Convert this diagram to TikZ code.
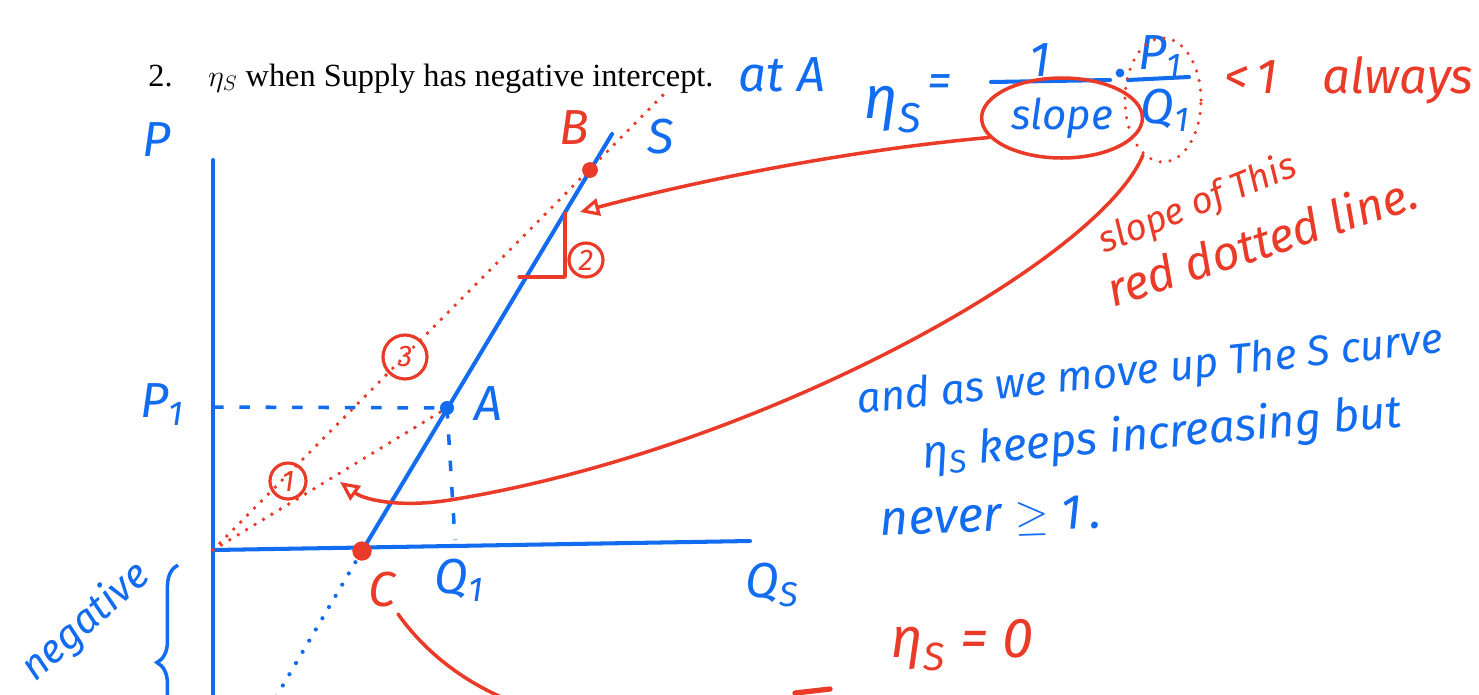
\documentclass[tikz,border=0pt]{standalone}
\usepackage{fontspec}
\setmainfont{Liberation Serif}
\newfontfamily\handfont{Fira Sans}
\newcommand\handsize[1]{\handfont\itshape\fontsize{#1}{#1}\selectfont}
\usetikzlibrary{positioning,arrows.meta,shapes.geometric,decorations.pathreplacing}

\definecolor{inkblue}{RGB}{18,108,240}
\definecolor{inkred}{RGB}{234,58,40}

\begin{document}
\begin{tikzpicture}[x=0.02cm, y=-0.02cm,
    axis/.style={inkblue, line width=2.3pt, line cap=round},
    guide/.style={inkblue, line width=2pt, dash pattern=on 6pt off 9pt},
    bluedots/.style={inkblue, line width=2.4pt, line cap=round, dash pattern=on 0pt off 7.4pt},
    reddots/.style={inkred, line width=2.2pt, line cap=round, dash pattern=on 0pt off 5.6pt},
    stroke/.style={inkred, line width=2pt, line cap=round, line join=round},
    pointer/.style={stroke, -{Triangle[open, length=11pt, width=10pt, line width=1.8pt]}},
    spot/.style={circle, fill=inkred, inner sep=0pt, minimum size=9pt},
    hand/.style={font=\handsize{28}, inner sep=0pt},
    ring/.style={circle, draw=inkred, line width=1.8pt, text=inkred, inner sep=0pt, font=\handsize{17}}
]

% Define canvas
\fill[white] (0,0) rectangle (1479,694);
\useasboundingbox (0,0) rectangle (1479,694);

\node[anchor=base west, font=\fontsize{18.4}{22}\selectfont, inner sep=0pt] (title) at (148,86)
    {2.\hspace{1.1em}$\eta_S$ when Supply has negative intercept.};

% Define coordinates
\coordinate (O) at (213,550);
\coordinate (Ptop) at (213,160);
\coordinate (Pbot) at (213,700);
\coordinate (Qend) at (750,541);
\coordinate (pA) at (447,408);
\coordinate (pB) at (590,170);
\coordinate (pC) at (362,551);
\coordinate (Stop) at (612,134);
\coordinate (Sdown) at (276,697);
\coordinate (Rtop) at (668,90);
\coordinate (P1) at (213,407);
\coordinate (Q1) at (455,540);

% Axes, supply curve and guides
\draw[axis] (Ptop) -- (Pbot);
\draw[axis] (O) -- (Qend);
\draw[axis] (pC) -- (Stop);
\draw[bluedots] (pC) -- (Sdown);
\draw[guide] (P1) -- (pA);
\draw[guide] (pA) -- (Q1);
\draw[reddots] (O) -- (pA);
\draw[reddots] (O) -- (Rtop);

% Define points
\node[spot, minimum size=11pt] (C) at (pC) {};
\node[spot, fill=inkblue, minimum size=8pt] (A) at (pA) {};
\node[spot] (B) at (pB) {};

% Labels
\node[hand, text=inkblue] (Plab) at (157,140) {P};
\node[hand, text=inkblue] (Slab) at (661,137) {S};
\node[hand, text=inkred] (Blab) at (574,128) {B};
\node[hand, text=inkblue] (P1lab) at (162,405) {P\textsubscript{1}};
\node[hand, text=inkblue] (Alab) at (488,404) {A};
\node[hand, text=inkblue] (Q1lab) at (459,580) {Q\textsubscript{1}};
\node[hand, text=inkred] (Clab) at (382,590) {C};
\node[hand, text=inkblue] (QSlab) at (772,585) {Q\textsubscript{S}};
\node[hand, text=inkblue] (atA) at (782,75) {at A};
\node[hand, text=inkblue, font=\handsize{23}, rotate=42] (neg) at (86,622) {negative};
\coordinate (bracebot) at (178,760);
\coordinate (bracetop) at (178,565);
\draw[inkblue, line width=2pt, decorate, decoration={brace, amplitude=12pt}] (bracebot) -- (bracetop);

% Slope triangle and circled marks
\coordinate (T1) at (565,213);
\coordinate (T2) at (565,277);
\coordinate (T3) at (519,277);
\draw[stroke] (T1) -- (T2) -- (T3);
\node[ring, minimum size=0.68cm] (two) at (586,260) {2};
\node[ring, minimum size=0.88cm] (three) at (405,357) {3};
\node[ring, minimum size=0.72cm] (one) at (288,481) {1};

% Formula
\node[hand, text=inkblue, font=\handsize{34}] (eta) at (893,110) {η\textsubscript{S}};
\node[hand, text=inkblue] (eq) at (940,86) {=};
\node[hand, text=inkblue] (num) at (1040,60) {1};
\coordinate (bar1a) at (991,82);
\coordinate (bar1b) at (1110,80);
\draw[axis] (bar1a) -- (bar1b);
\node[ellipse, draw=inkred, line width=2pt, minimum width=3.16cm, minimum height=1.6cm,
    text=inkblue, font=\handsize{24}] (slope) at (1062,118) {slope};
\node[circle, fill=inkblue, inner sep=0pt, minimum size=5pt] (times) at (1120,73) {};
\node[hand, text=inkblue] (P1num) at (1160,57) {P\textsubscript{1}};
\coordinate (bar2a) at (1128,80);
\coordinate (bar2b) at (1189,77);
\draw[axis] (bar2a) -- (bar2b);
\node[hand, text=inkblue] (Q1den) at (1165,110) {Q\textsubscript{1}};
\node[ellipse, draw=inkred, line width=2pt, line cap=round, dash pattern=on 0pt off 5.6pt,
    minimum width=1.52cm, minimum height=2.48cm] (ratio) at (1163,100) {};
\node[hand, text=inkred, anchor=west] (always) at (1224,80) {<\,1\hspace{0.9em}always};

% Red notes
\node[hand, text=inkred, font=\handsize{21}, rotate=22] (note1) at (1198,205) {slope of This};
\node[hand, text=inkred, font=\handsize{27}, rotate=18] (note2) at (1262,240) {red dotted line.};

% Connectors
\coordinate (slopetip) at (580,212);
\coordinate (raytip) at (340,482);
\coordinate (bend) at (450,500);
\draw[pointer] (slope.195) .. controls (850,150) and (700,180) .. (slopetip);
\draw[pointer] (ratio.250) .. controls (1100,260) and (760,450) .. (bend)
    .. controls (400,508) and (365,500) .. (raytip);
\coordinate (Cfoot) at (398,614);
\coordinate (Cexit) at (518,704);
\draw[stroke] (Cfoot) .. controls (425,652) and (465,684) .. (Cexit);
\coordinate (stubL) at (795,693);
\coordinate (stubR) at (830,689);
\draw[stroke, line width=3pt] (stubL) -- (stubR);

% Blue notes
\node[hand, text=inkblue, font=\handsize{24}, rotate=6] (line1) at (1150,372) {and as we move up The S curve};
\node[hand, text=inkblue, font=\handsize{26}, rotate=5] (line2) at (1162,435) {η\textsubscript{S} keeps increasing but};
\node[hand, text=inkblue, font=\handsize{28}, anchor=west, rotate=2] (line3) at (880,522) {never $\geq$ 1\,.};
\node[hand, text=inkred, font=\handsize{32}] (zero) at (962,645) {η\textsubscript{S} = 0};

\end{tikzpicture}
\end{document}
